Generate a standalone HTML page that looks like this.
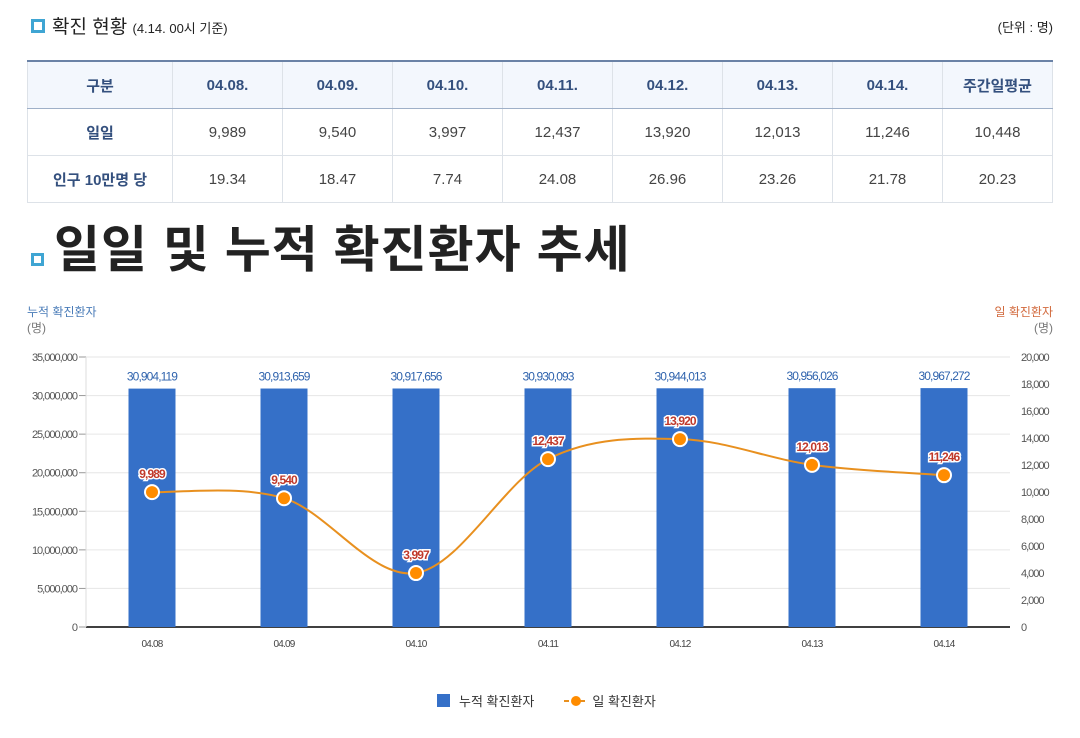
<!DOCTYPE html>
<html><head><meta charset="utf-8">
<style>
body{margin:0;width:1080px;height:738px;background:#fff;font-family:"Liberation Sans","Noto Sans CJK KR",sans-serif;position:relative;overflow:hidden}
.abs{position:absolute}
table{position:absolute;left:27px;top:60px;width:1026px;border-collapse:collapse;table-layout:fixed;border-top:2px solid #6a82a6}
td,th{border:1px solid #dde2e8;height:46px;text-align:center;font-size:15px;color:#444;padding:0}
th{background:#f3f7fd;color:#34507e;font-weight:bold;border-bottom:1px solid #9fb0c8}
td.h{color:#34507e;font-weight:bold}
</style></head><body>
<div class="abs" style="left:31px;top:19px;width:8px;height:8px;border:3px solid #3fa5d3"></div>
<div class="abs" style="left:52px;top:12px;font-size:19px;color:#222">확진 현황 <span style="font-size:13px">(4.14. 00시 기준)</span></div>
<div class="abs" style="right:27px;top:17px;font-size:13px;color:#222">(단위 : 명)</div>
<table>
<colgroup><col style="width:145px"><col><col><col><col><col><col><col><col></colgroup>
<tr><th>구분</th><th>04.08.</th><th>04.09.</th><th>04.10.</th><th>04.11.</th><th>04.12.</th><th>04.13.</th><th>04.14.</th><th>주간일평균</th></tr>
<tr><td class="h">일일</td><td>9,989</td><td>9,540</td><td>3,997</td><td>12,437</td><td>13,920</td><td>12,013</td><td>11,246</td><td>10,448</td></tr>
<tr><td class="h">인구 10만명 당</td><td>19.34</td><td>18.47</td><td>7.74</td><td>24.08</td><td>26.96</td><td>23.26</td><td>21.78</td><td>20.23</td></tr>
</table>
<div class="abs" style="left:31px;top:253px;width:7px;height:7px;border:3px solid #3fa5d3"></div>
<div class="abs" style="left:54px;top:210px;font-size:50px;font-weight:bold;color:#222;letter-spacing:1px;white-space:nowrap">일일 및 누적 확진환자 추세</div>
<div class="abs" style="left:27px;top:304px;font-size:12px;color:#4a7cb8;line-height:16px">누적 확진환자<br><span style="color:#777">(명)</span></div>
<div class="abs" style="right:27px;top:304px;font-size:12px;color:#d2693c;line-height:16px;text-align:right">일 확진환자<br><span style="color:#777">(명)</span></div>
<svg class="abs" id="chart" style="left:0;top:0" width="1080" height="738"></svg>
<div class="abs" style="left:437px;top:691px;font-size:13px;color:#333;display:flex;align-items:center">
<span style="width:13px;height:13px;background:#3570c8;display:inline-block;margin-right:9px"></span><span>누적 확진환자</span>
<svg width="24" height="14" style="margin-left:30px;margin-right:4px"><line x1="0" y1="7" x2="24" y2="7" stroke="#e8901f" stroke-width="2" stroke-dasharray="5,3"/><circle cx="12" cy="7" r="5" fill="#ff8c00"/></svg><span>일 확진환자</span>
</div>
<script>
const categories=["04.08","04.09","04.10","04.11","04.12","04.13","04.14"];
const cumulative=[30904119,30913659,30917656,30930093,30944013,30956026,30967272];
const daily=[9989,9540,3997,12437,13920,12013,11246];
const leftTicks=[0,5000000,10000000,15000000,20000000,25000000,30000000,35000000];
const rightTicks=[0,2000,4000,6000,8000,10000,12000,14000,16000,18000,20000];
const NS="http://www.w3.org/2000/svg";
const svg=document.getElementById('chart');
const X0=86,X1=1010,Y0=627,Y1=357;
const band=(X1-X0)/categories.length;
const xc=i=>X0+band*(i+0.5);
const yL=v=>Y0-v/35000000*(Y0-Y1);
const yR=v=>Y0-v/20000*(Y0-Y1);
const fmt=v=>v.toLocaleString('en-US');
function mk(t,a,p){const e=document.createElementNS(NS,t);for(const k in a)e.setAttribute(k,a[k]);(p||svg).appendChild(e);return e;}
leftTicks.forEach(v=>{const g=mk('line',{x1:X0,x2:X1,y1:yL(v),y2:yL(v),stroke:v?'#e6e6e6':'#000','stroke-width':v?1:1.5});


const t=mk('text',{x:77,y:yL(v)+4,'text-anchor':'end','font-size':11,fill:'#555','letter-spacing':'-1'});t.textContent=fmt(v);


mk('line',{x1:79,x2:X0,y1:yL(v),y2:yL(v),stroke:'#999'});});
mk('line',{x1:X0,x2:X0,y1:Y1,y2:Y0,stroke:'#ddd'});
rightTicks.forEach(v=>{const t=mk('text',{x:1021,y:yR(v)+4,'font-size':11,fill:'#555','letter-spacing':'-1'});t.textContent=fmt(v);

});
categories.forEach((c,i)=>{
const h=Y0-yL(cumulative[i]);
const r=mk('rect',{x:xc(i)-23.5,y:yL(cumulative[i]),width:47,height:h,fill:'#3570c8'});


const t=mk('text',{x:xc(i),y:yL(cumulative[i])-8,'text-anchor':'middle','font-size':12,fill:'#2f63ad','letter-spacing':'-0.9'});t.textContent=fmt(cumulative[i]);


const xl=mk('text',{x:xc(i),y:647,'text-anchor':'middle','font-size':10,fill:'#444','letter-spacing':'-0.8'});xl.textContent=c;


});
const pts=daily.map((v,i)=>[xc(i),yR(v)]);
let d='M'+pts[0][0]+','+pts[0][1];
for(let i=0;i<pts.length-1;i++){const p0=pts[Math.max(0,i-1)],p1=pts[i],p2=pts[i+1],p3=pts[Math.min(pts.length-1,i+2)];
const c1=[p1[0]+(p2[0]-p0[0])/6,p1[1]+(p2[1]-p0[1])/6],c2=[p2[0]-(p3[0]-p1[0])/6,p2[1]-(p3[1]-p1[1])/6];
d+=` C${c1[0]},${c1[1]} ${c2[0]},${c2[1]} ${p2[0]},${p2[1]}`;}
const ln=mk('path',{d:d,fill:'none',stroke:'#e8901f','stroke-width':2});


pts.forEach((p,i)=>{const c=mk('circle',{cx:p[0],cy:p[1],r:7,fill:'#ff8c00',stroke:'#fff','stroke-width':2});


const t=mk('text',{x:p[0],y:p[1]-14,'text-anchor':'middle','font-size':12,'font-weight':'bold',fill:'#c0392b',stroke:'#fff','stroke-width':3,'paint-order':'stroke','letter-spacing':'-0.9'});t.textContent=fmt(daily[i]);

});
</script>
</body></html>
